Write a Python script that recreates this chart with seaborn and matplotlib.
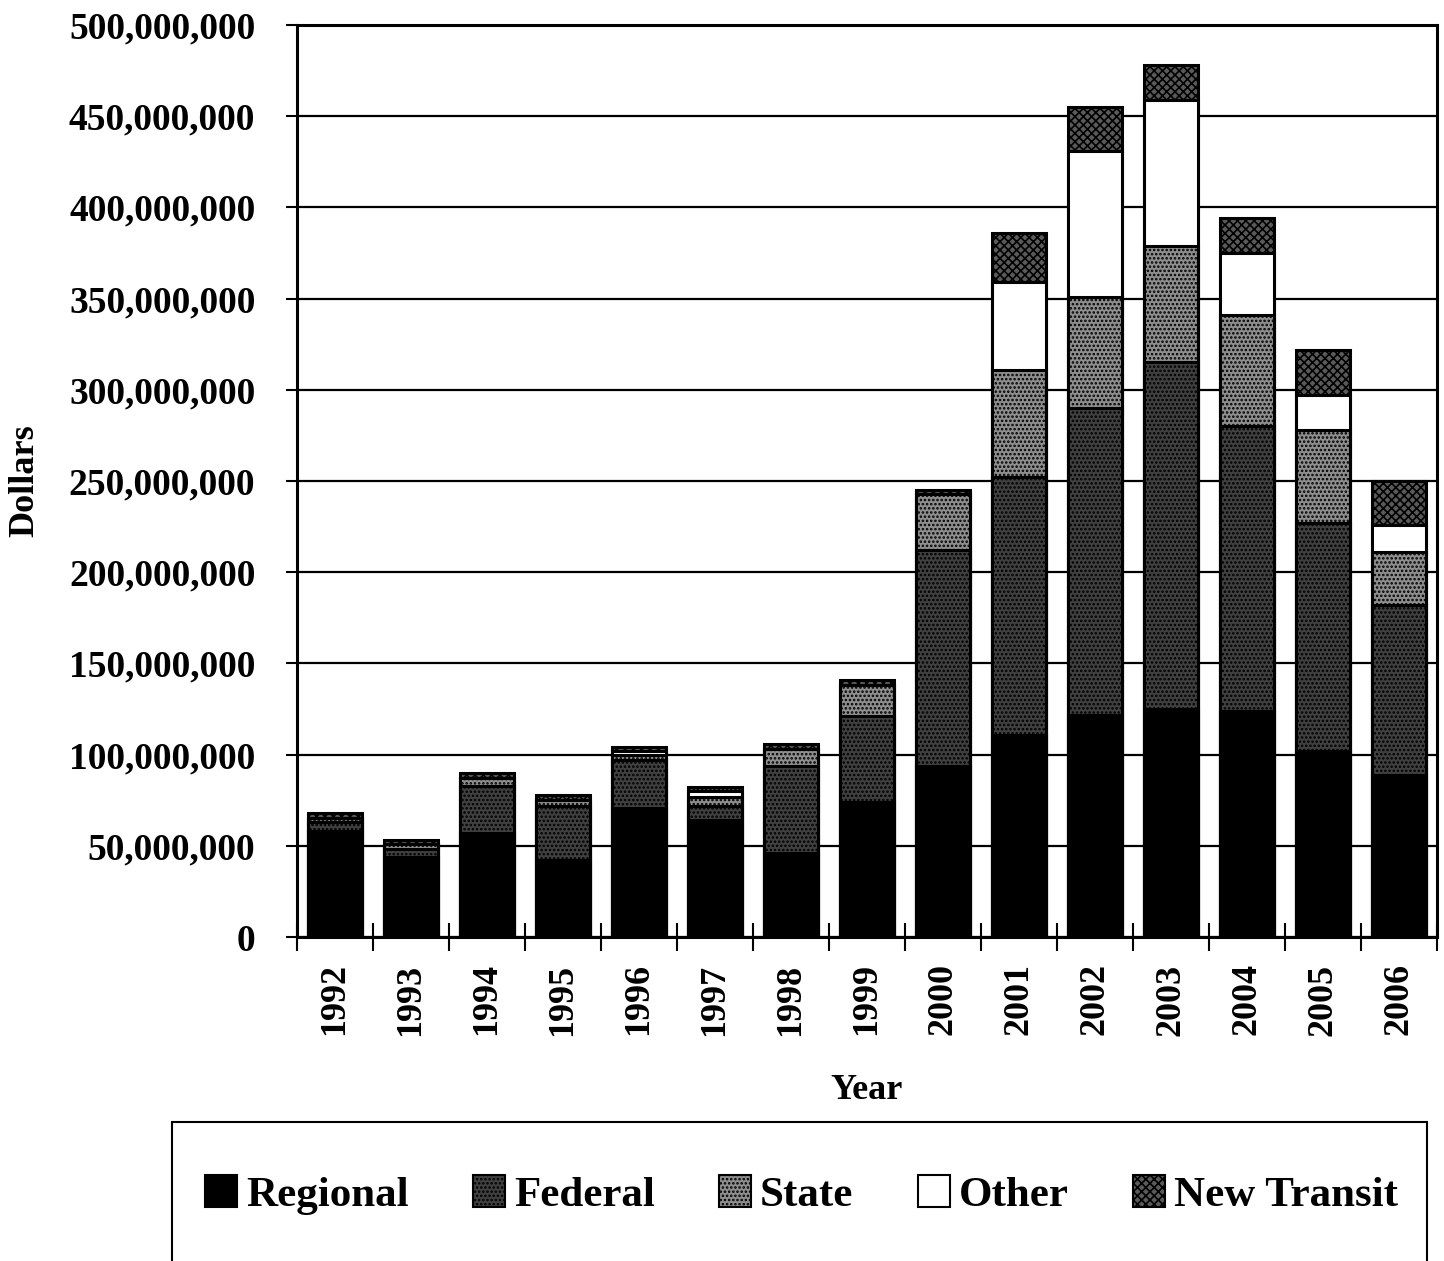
import numpy as np
import pandas as pd
import matplotlib
matplotlib.use("Agg")
import matplotlib.pyplot as plt
from matplotlib.patches import Patch, Rectangle
from matplotlib.ticker import FuncFormatter, FixedLocator
import seaborn as sns

# Funding by source, in millions of dollars
years = [1992, 1993, 1994, 1995, 1996, 1997, 1998, 1999,
         2000, 2001, 2002, 2003, 2004, 2005, 2006]
regional = [58, 44, 57, 42, 71, 64, 46, 74, 94, 111, 122, 125, 124, 102, 89]
federal = [5, 4, 26, 30, 26, 8, 48, 47, 118, 141, 168, 190, 156, 125, 93]
state = [2, 3, 4, 3, 3, 5, 9, 17, 31, 59, 61, 64, 61, 51, 29]
other = [0, 0, 0, 0, 2, 3, 0, 0, 0, 48, 80, 80, 34, 19, 15]
new_transit = [3, 2, 3, 3, 2, 2, 3, 3, 2, 27, 24, 19, 19, 25, 24]

sources = ["Regional", "Federal", "State", "Other", "New Transit"]
series = [regional, federal, state, other, new_transit]
styles = {
    "Regional": dict(color="#000000", hatch=None),
    "Federal": dict(color="#404040", hatch="...."),
    "State": dict(color="#8e8e8e", hatch="...."),
    "Other": dict(color="#ffffff", hatch=None),
    "New Transit": dict(color="#5a5a5a", hatch="xxxx"),
}

sns.set_theme(style="white")
plt.rcParams["font.family"] = ["Liberation Serif", "DejaVu Serif"]
plt.rcParams["font.weight"] = "bold"
plt.rcParams["hatch.linewidth"] = 1.2
plt.rcParams["text.color"] = "black"
plt.rcParams["axes.labelcolor"] = "black"
plt.rcParams["xtick.color"] = "black"
plt.rcParams["ytick.color"] = "black"

df = pd.DataFrame({"Year": [str(y) for y in years]})
cum = np.zeros(len(years))
for name, vals in zip(sources, series):
    cum = cum + np.array(vals, dtype=float) * 1e6
    df[name] = cum.copy()

fig = plt.figure(figsize=(14.44, 12.61), dpi=100)
ax = fig.add_axes([0.2057, 0.2569, 0.7895, 0.7233])

# Draw cumulative totals from the top layer down so each layer covers the next
for name in reversed(sources):
    st = styles[name]
    sns.barplot(data=df, x="Year", y=name, color=st["color"], saturation=1,
                width=0.7, edgecolor="black", linewidth=2.2, hatch=st["hatch"],
                ax=ax, zorder=3)

ax.set_ylim(0, 500e6)
ax.set_xlim(-0.5, len(years) - 0.5)
ax.set_yticks(np.arange(0, 500e6 + 1, 50e6))
ax.yaxis.set_major_formatter(FuncFormatter(lambda v, p: f"{int(round(v)):,}"))
ax.grid(axis="y", color="black", linewidth=1.6, zorder=0)
ax.set_axisbelow(True)

for s in ax.spines.values():
    s.set_visible(True)
    s.set_color("black")
    s.set_linewidth(2.2)

ax.tick_params(axis="y", which="major", length=8, width=1.5, color="black",
               labelcolor="black", left=True, pad=22, labelsize=27)
ax.tick_params(axis="x", which="major", length=0, pad=19, labelsize=26,
               labelcolor="black", labelrotation=90)
ax.xaxis.set_minor_locator(FixedLocator(np.arange(-0.5, len(years), 1.0)))
ax.tick_params(axis="x", which="minor", bottom=True, direction="inout",
               length=20, width=1.5, color="black")
for lab in ax.get_xticklabels() + ax.get_yticklabels():
    lab.set_fontweight("bold")

ax.set_xlabel("Year", fontsize=26, fontweight="bold", labelpad=28, color="black")
ax.set_ylabel("Dollars", fontsize=26, fontweight="bold", labelpad=20, color="black")

# Legend frame runs past the bottom edge of the figure
fig.patches.append(Rectangle((172 / 1444, -0.05), (1427 - 172) / 1444,
                             0.05 + (1 - 1122 / 1261), transform=fig.transFigure,
                             fill=False, edgecolor="black", linewidth=1.5))

handles = [Patch(facecolor=styles[n]["color"], edgecolor="black",
                 hatch=styles[n]["hatch"], linewidth=1.5, label=n)
           for n in sources]
leg = fig.legend(handles=handles, loc="center left",
                 bbox_to_anchor=(205 / 1444, 1 - 1195 / 1261, (1398 - 205) / 1444, 0),
                 mode="expand", ncol=5, frameon=False, borderaxespad=0,
                 borderpad=0, labelcolor="black",
                 prop={"family": "Liberation Serif", "weight": "bold", "size": 31},
                 handlelength=0.75, handleheight=0.75, handletextpad=0.2,
                 columnspacing=1.0)

fig.savefig("out.png", dpi=100, facecolor="white")
